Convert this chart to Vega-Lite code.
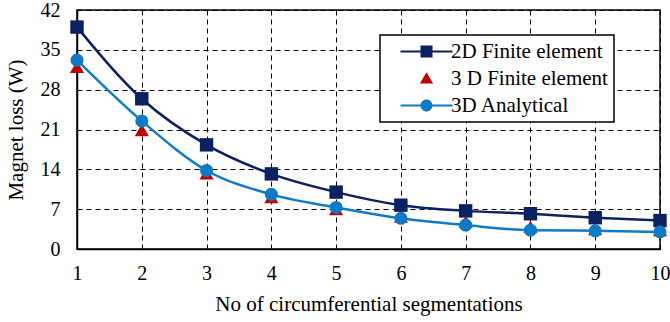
{
  "$schema": "https://vega.github.io/schema/vega-lite/v6.json",
  "width": 583,
  "height": 239,
  "autosize": {"type": "none"},
  "padding": {"left": 77, "top": 10, "right": 10, "bottom": 73},
  "background": "white",
  "config": {
    "font": "Liberation Serif",
    "view": {"stroke": "black", "strokeWidth": 1.5},
    "axis": {
      "labelFont": "Liberation Serif",
      "titleFont": "Liberation Serif",
      "labelFontSize": 20,
      "titleFontSize": 21,
      "titleFontWeight": "normal",
      "labelColor": "black",
      "titleColor": "black",
      "domainColor": "black",
      "domainWidth": 1.5,
      "ticks": false,
      "gridColor": "black",
      "gridDash": [5, 4],
      "gridWidth": 1,
      "gridOpacity": 1
    },
    "legend": {"strokeWidth": 1.5}
  },
  "data": {
    "values": [
      {"n": 1, "series": "2D Finite element", "loss": 39.0},
      {"n": 2, "series": "2D Finite element", "loss": 26.4},
      {"n": 3, "series": "2D Finite element", "loss": 18.3},
      {"n": 4, "series": "2D Finite element", "loss": 13.2},
      {"n": 5, "series": "2D Finite element", "loss": 10.0},
      {"n": 6, "series": "2D Finite element", "loss": 7.7},
      {"n": 7, "series": "2D Finite element", "loss": 6.7},
      {"n": 8, "series": "2D Finite element", "loss": 6.2},
      {"n": 9, "series": "2D Finite element", "loss": 5.5},
      {"n": 10, "series": "2D Finite element", "loss": 5.0},
      {"n": 1, "series": "3 D Finite element", "loss": 32.0},
      {"n": 2, "series": "3 D Finite element", "loss": 20.9},
      {"n": 3, "series": "3 D Finite element", "loss": 13.3},
      {"n": 4, "series": "3 D Finite element", "loss": 9.1},
      {"n": 5, "series": "3 D Finite element", "loss": 7.0},
      {"n": 6, "series": "3 D Finite element", "loss": 5.7},
      {"n": 7, "series": "3 D Finite element", "loss": 4.8},
      {"n": 8, "series": "3 D Finite element", "loss": 3.9},
      {"n": 9, "series": "3 D Finite element", "loss": 3.5},
      {"n": 10, "series": "3 D Finite element", "loss": 3.3},
      {"n": 1, "series": "3D Analytical", "loss": 33.2},
      {"n": 2, "series": "3D Analytical", "loss": 22.5},
      {"n": 3, "series": "3D Analytical", "loss": 13.8},
      {"n": 4, "series": "3D Analytical", "loss": 9.6},
      {"n": 5, "series": "3D Analytical", "loss": 7.3},
      {"n": 6, "series": "3D Analytical", "loss": 5.4},
      {"n": 7, "series": "3D Analytical", "loss": 4.2},
      {"n": 8, "series": "3D Analytical", "loss": 3.3},
      {"n": 9, "series": "3D Analytical", "loss": 3.2},
      {"n": 10, "series": "3D Analytical", "loss": 3.0}
    ]
  },
  "encoding": {
    "x": {
      "field": "n", "type": "quantitative",
      "scale": {"domain": [1, 10], "nice": false, "zero": false},
      "axis": {"values": [1,2,3,4,5,6,7,8,9,10], "title": "No of circumferential segmentations", "labelPadding": 14, "titlePadding": 10, "format": "d", "labelFlush": false}
    },
    "y": {
      "field": "loss", "type": "quantitative",
      "scale": {"domain": [0, 42], "nice": false},
      "axis": {"values": [0,7,14,21,28,35,42], "title": "Magnet loss (W)", "labelPadding": 17, "titlePadding": 14, "labelFlush": false}
    },
    "color": {
      "field": "series", "type": "nominal",
      "scale": {"domain": ["2D Finite element", "3 D Finite element", "3D Analytical"], "range": ["#0B2161", "#C00000", "#0F7BC8"]},
      "legend": {
        "orient": "none",
        "legendX": 303,
        "legendY": 25,
        "title": null,
        "labelFont": "Liberation Serif",
        "labelFontSize": 21,
        "labelColor": "black",
        "strokeColor": "black",
        "fillColor": "white",
        "padding": 6,
        "rowPadding": 5,
        "symbolSize": 144,
        "labelOffset": 44,
        "values": ["2D Finite element", "3 D Finite element", "3D Analytical"],
        "encode": {
          "symbols": {
            "update": {
              "shape": {"signal": "datum.value === '2D Finite element' ? 'M0.67,-0.17H9.33V0.17H0.67Z M4,-1H6V1H4Z' : datum.value === '3D Analytical' ? 'M0.67,-0.17H9.33V0.17H0.67Z M6,0A1,1,0,1,1,4,0A1,1,0,1,1,6,0Z' : 'M5,-1.05L6.1,0.85H3.9Z'"},
              "fill": {"scale": "color", "field": "value"},
              "stroke": {"value": "transparent"},
              "strokeWidth": {"value": 0},
              "opacity": {"value": 1}
            }
          }
        }
      }
    }
  },
  "layer": [
    {
      "transform": [{"filter": "datum.series !== '3 D Finite element'"}],
      "mark": {"type": "line", "interpolate": "monotone", "strokeWidth": 2.5}
    },
    {
      "transform": [{"filter": "datum.series === '2D Finite element'"}],
      "mark": {"type": "point", "filled": true, "opacity": 1, "size": 180, "shape": "square"}
    },
    {
      "transform": [{"filter": "datum.series === '3 D Finite element'"}],
      "mark": {"type": "point", "filled": true, "opacity": 1, "size": 200, "shape": "triangle-up"}
    },
    {
      "transform": [{"filter": "datum.series === '3D Analytical'"}],
      "mark": {"type": "point", "filled": true, "opacity": 1, "size": 170, "shape": "circle"}
    }
  ]
}
